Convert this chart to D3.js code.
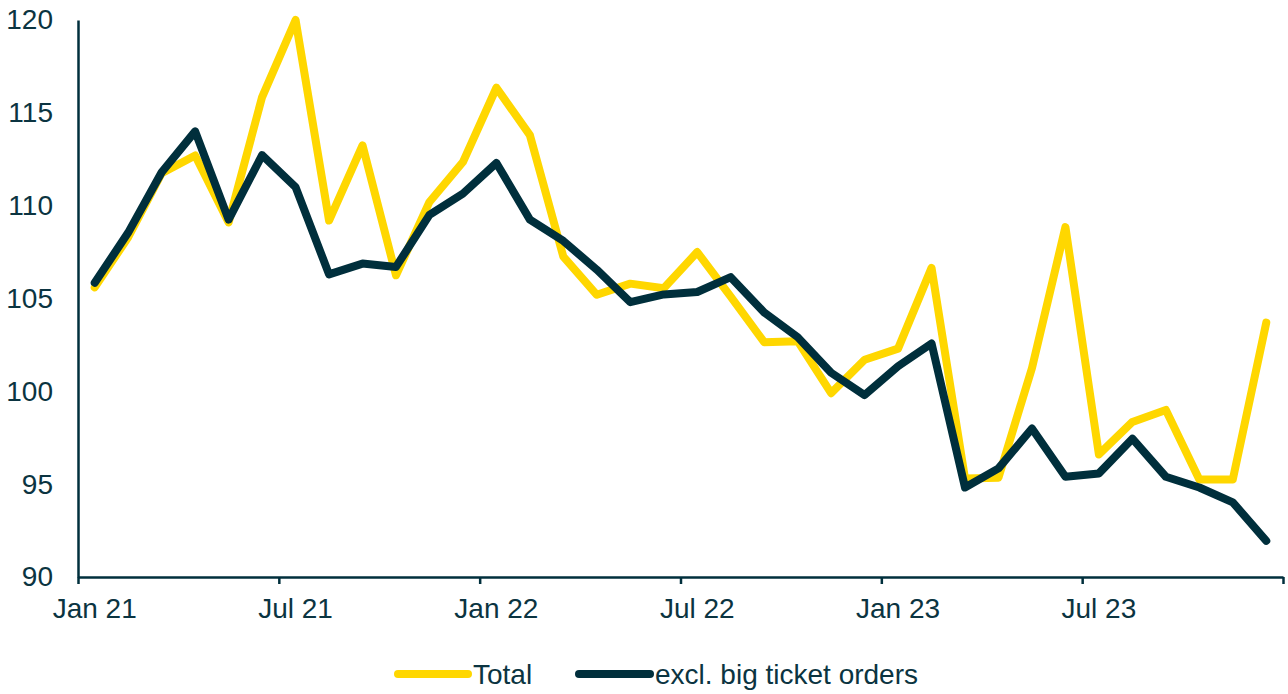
<!DOCTYPE html>
<html>
<head>
<meta charset="utf-8">
<script src="https://cdn.jsdelivr.net/npm/d3@7"></script>
<style>
  html, body { margin: 0; padding: 0; background: #fff; }
  svg { display: block; font-family: 'Liberation Sans', Arial, sans-serif; }
</style>
</head>
<body>
<div id="chart"></div>
<script>
// monthly values, Jan 21 .. Dec 23
const months = d3.range(36).map((i) => new Date(2021, i, 1))
const total = [
  105.6, 108.3, 111.75, 112.7, 109.1, 115.85, 120.0, 109.2, 113.25, 106.25, 110.2, 112.35,
  116.35, 113.8, 107.25, 105.2, 105.8, 105.55, 107.5, 105.1, 102.65, 102.7, 99.9, 101.7,
  102.3, 106.65, 95.3, 95.35, 101.25, 108.85, 96.6, 98.35, 99.0, 95.25, 95.25, 103.7,
]
const exclBig = [
  105.85, 108.55, 111.8, 114.0, 109.25, 112.72, 111.0, 106.3, 106.88, 106.7, 109.5, 110.65,
  112.3, 109.25, 108.1, 106.55, 104.8, 105.22, 105.35, 106.15, 104.25, 102.92, 101.0, 99.8,
  101.35, 102.58, 94.82, 95.85, 98.0, 95.4, 95.58, 97.45, 95.4, 94.82, 94.02, 91.95,
]
const yTicks = [90, 95, 100, 105, 110, 115, 120]
const xTickIdx = [0, 6, 12, 18, 24, 30, 36]
const xLabels = ['Jan 21', 'Jul 21', 'Jan 22', 'Jul 22', 'Jan 23', 'Jul 23']

const series = [
  { name: 'Total', values: total, color: '#ffd700' },
  { name: 'excl. big ticket orders', values: exclBig, color: '#002f3c' },
]

const width = 1288
const height = 694
const margin = { top: 20, right: 5, bottom: 117, left: 78 }
const ink = '#0b3441'
const axisColor = '#002f3c'
const fontSize = '28px'

const svg = d3.select('#chart').append('svg')
  .attr('width', width)
  .attr('height', height)

const x = d3.scaleLinear().domain([0, months.length]).range([margin.left, width - margin.right])
const y = d3.scaleLinear().domain([90, 120]).range([height - margin.bottom, margin.top])

// y axis
const yAxis = svg.append('g')
  .attr('transform', `translate(${margin.left},0)`)
  .call(d3.axisLeft(y).tickValues(yTicks).tickSize(0).tickPadding(25))
yAxis.select('.domain').attr('stroke', axisColor).attr('stroke-width', 2.5)
yAxis.selectAll('text')
  .attr('fill', ink)
  .style('font-size', fontSize)
  .style('font-family', "'Liberation Sans', Arial, sans-serif")

// x axis: tick marks on half-year boundaries, labels centred on the month
const xAxis = svg.append('g')
  .attr('transform', `translate(0,${y(90)})`)
  .call(d3.axisBottom(x).tickValues(xTickIdx).tickSize(7).tickSizeOuter(0).tickFormat(''))
xAxis.select('.domain').attr('stroke', axisColor).attr('stroke-width', 2.5)
xAxis.selectAll('.tick line').attr('stroke', axisColor).attr('stroke-width', 2.5)

svg.append('g')
  .selectAll('text')
  .data(xLabels)
  .join('text')
  .attr('x', (d, i) => x(i * 6 + 0.5))
  .attr('y', y(90) + 41)
  .attr('text-anchor', 'middle')
  .attr('fill', ink)
  .style('font-size', fontSize)
  .text((d) => d)

// lines
const line = d3.line()
  .x((d, i) => x(i + 0.5))
  .y((d) => y(d))

svg.append('g')
  .selectAll('path')
  .data(series)
  .join('path')
  .attr('d', (d) => line(d.values))
  .attr('fill', 'none')
  .attr('stroke', (d) => d.color)
  .attr('stroke-width', 8)
  .attr('stroke-linejoin', 'round')
  .attr('stroke-linecap', 'round')

// legend
const legendItems = [
  { s: series[0], x0: 398, x1: 468, tx: 473 },
  { s: series[1], x0: 579, x1: 650, tx: 655 },
]
const legend = svg.append('g')
legend.selectAll('line')
  .data(legendItems)
  .join('line')
  .attr('x1', (d) => d.x0)
  .attr('x2', (d) => d.x1)
  .attr('y1', 674)
  .attr('y2', 674)
  .attr('stroke', (d) => d.s.color)
  .attr('stroke-width', 8)
  .attr('stroke-linecap', 'round')
legend.selectAll('text')
  .data(legendItems)
  .join('text')
  .attr('x', (d) => d.tx)
  .attr('y', 684)
  .attr('fill', ink)
  .style('font-size', fontSize)
  .text((d) => d.s.name)
</script>
</body>
</html>
